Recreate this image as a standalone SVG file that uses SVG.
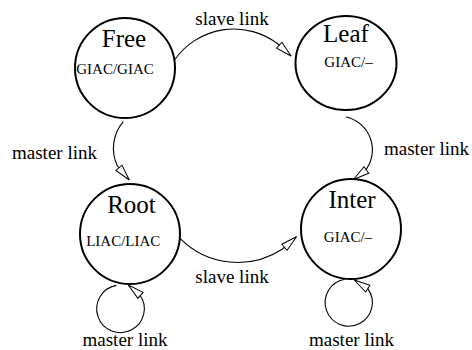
<svg xmlns="http://www.w3.org/2000/svg" width="472" height="350" viewBox="0 0 472 350">
<style>
.node{fill:none;stroke:#000;stroke-width:2}
.big{font-family:"Liberation Serif","Times New Roman",serif;font-size:25px;fill:#000;text-anchor:middle}
.small{font-family:"Liberation Serif","Times New Roman",serif;font-size:15px;fill:#000;text-anchor:middle}
.lbl{font-family:"Liberation Serif","Times New Roman",serif;font-size:19px;fill:#000}
.edge{fill:none;stroke:#000;stroke-width:1.1}
</style>
<defs>
<marker id="arr" markerUnits="userSpaceOnUse" markerWidth="18" markerHeight="10" refX="16" refY="5" orient="auto" overflow="visible">
<path d="M16,5 L0,1 L0,9 Z" fill="#fff" stroke="#000" stroke-width="1"/>
</marker>
</defs>
<rect width="472" height="350" fill="#fff"/>
<g id="free">
<circle class="node" cx="125" cy="68" r="50"/>
<text class="big" x="124" y="47">Free</text>
<text class="small" x="115" y="74">GIAC/GIAC</text>
</g>
<g id="leaf">
<ellipse class="node" cx="346" cy="63" rx="50.5" ry="47"/>
<text class="big" x="346" y="42">Leaf</text>
<text class="small" x="348.5" y="67">GIAC/–</text>
</g>
<g id="root">
<circle class="node" cx="130" cy="234" r="50"/>
<text class="big" x="131.5" y="213">Root</text>
<text class="small" x="123.3" y="246">LIAC/LIAC</text>
</g>
<g id="inter">
<circle class="node" cx="351" cy="229" r="50"/>
<text class="big" x="352" y="208">Inter</text>
<text class="small" x="348" y="242">GIAC/–</text>
</g>
<g id="connectors">
<path class="edge" marker-end="url(#arr)" d="M174.5,60 A72.4,72.4 0 0,1 278,44 L291,56"/>
<path class="edge" marker-end="url(#arr)" d="M180,238.3 A81.3,81.3 0 0,0 282.5,249 L296.5,236.7"/>
<path class="edge" marker-end="url(#arr)" d="M123.3,121.7 A41,41 0 0,0 117.3,165.8 L129.3,180"/>
<path class="edge" marker-end="url(#arr)" d="M346,117 A33.7,33.7 0 0,1 365,171 L353.5,179.5"/>
<path class="edge" marker-end="url(#arr)" d="M116.4,285.4 A23.8,23.8 0 1,0 139.5,294.5 L128.3,285"/>
<path class="edge" marker-end="url(#arr)" d="M344.6,279.3 A23.6,23.6 0 1,0 367.8,288.6 L354.3,280"/>
<text class="lbl" x="232" y="25" text-anchor="middle">slave link</text>
<text class="lbl" x="12" y="159">master link</text>
<text class="lbl" x="384" y="155">master link</text>
<text class="lbl" x="232" y="282.5" text-anchor="middle">slave link</text>
<text class="lbl" x="125" y="345.5" text-anchor="middle">master link</text>
<text class="lbl" x="351.5" y="345.5" text-anchor="middle">master link</text>
</g>
</svg>
